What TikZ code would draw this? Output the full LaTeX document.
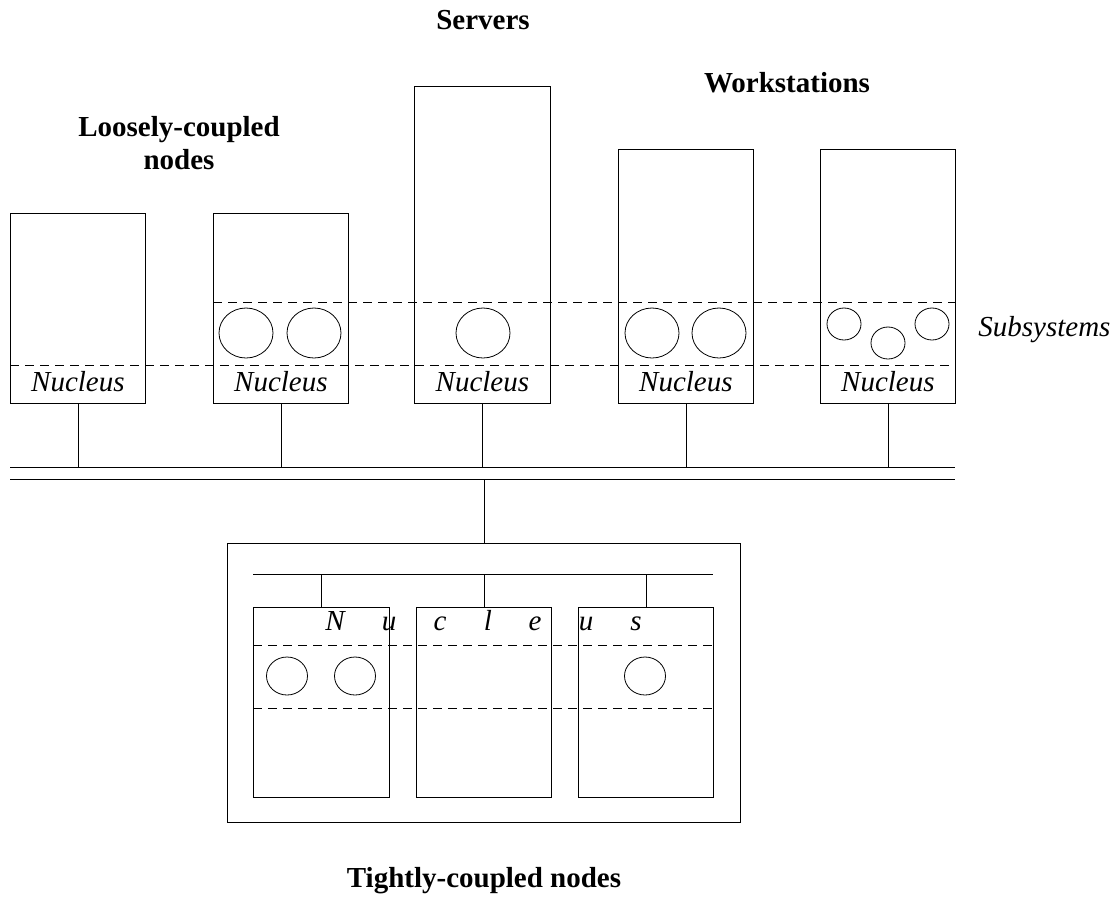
\documentclass[tikz,border=0pt]{standalone}
\usepackage{fontspec}
\setmainfont{Liberation Serif}
\usetikzlibrary{shapes.geometric}
\begin{document}
\begin{tikzpicture}[x=1pt,y=-1pt, line width=0.8pt,
  box/.style={draw, rectangle, inner sep=0pt, anchor=north west},
  dashline/.style={dash pattern=on 9pt off 6pt},
  sub/.style={draw, ellipse, inner sep=0pt, minimum width=54pt, minimum height=50pt},
  subsmall/.style={draw, ellipse, inner sep=0pt, minimum width=34pt, minimum height=32pt},
  subinner/.style={draw, ellipse, inner sep=0pt, minimum width=41pt, minimum height=38pt},
  lab/.style={font=\fontsize{29}{33}\selectfont\itshape, inner sep=0pt, anchor=base},
  ttl/.style={font=\fontsize{29}{33}\selectfont\bfseries, inner sep=0pt, anchor=base, align=center}]
\useasboundingbox (0,0) rectangle (1115,897);

% titles
\node[ttl] (servers) at (483,29) {Servers};
\node[ttl] (works) at (787,92) {Workstations};
\node[ttl, anchor=north] (loose) at (179,116) {Loosely-coupled\\nodes};
\node[ttl] (tight) at (484,887) {Tightly-coupled nodes};
\node[lab, anchor=base west] (subsys) at (978,336) {Subsystems};

% top boxes
\node[box, minimum width=135pt, minimum height=190pt] (b1) at (10,213) {};
\node[box, minimum width=135pt, minimum height=190pt] (b2) at (213,213) {};
\node[box, minimum width=136pt, minimum height=317pt] (b3) at (414,86) {};
\node[box, minimum width=135pt, minimum height=254pt] (b4) at (618,149) {};
\node[box, minimum width=135pt, minimum height=254pt] (b5) at (820,149) {};

% dashed layers
\coordinate (dUL) at (213,302); \coordinate (dUR) at (955,302);
\coordinate (dLL) at (10,365);  \coordinate (dLR) at (955,365);
\draw[dashline] (dUL) -- (dUR);
\draw[dashline] (dLL) -- (dLR);

% nucleus labels
\foreach \b in {b1,b2,b3,b4,b5}
  \node[lab] (nuc-\b) at (\b.south |- 0,391) {Nucleus};

% subsystems circles
\node[sub] (c1) at (246,333) {};
\node[sub] (c2) at (314,333) {};
\node[sub] (c3) at (483,333) {};
\node[sub] (c4) at (652,333) {};
\node[sub] (c5) at (719,333) {};
\node[subsmall] (c6) at (844,324) {};
\node[subsmall] (c7) at (888,343) {};
\node[subsmall] (c8) at (932,324) {};

% bus
\coordinate (bus1L) at (10,467); \coordinate (bus1R) at (955,467);
\coordinate (bus2L) at (10,479); \coordinate (bus2R) at (955,479);
\draw (bus1L) -- (bus1R);
\draw (bus2L) -- (bus2R);
\foreach \b in {b1,b2,b3,b4,b5}
  \draw (\b.south) -- (\b.south |- bus1L);

% tightly coupled
\node[box, minimum width=513pt, minimum height=279pt] (outer) at (227,543) {};
\draw (outer.north) -- (outer.north |- bus2L);
\coordinate (ibL) at (253,574); \coordinate (ibR) at (713,574);
\draw (ibL) -- (ibR);
\node[box, minimum width=136pt, minimum height=190pt] (t1) at (253,607) {};
\node[box, minimum width=135pt, minimum height=190pt] (t2) at (416,607) {};
\node[box, minimum width=135pt, minimum height=190pt] (t3) at (578,607) {};
\foreach \b in {t1,t2,t3}
  \draw (\b.north) -- (\b.north |- ibL);
\coordinate (idUL) at (253,645); \coordinate (idUR) at (713,645);
\coordinate (idLL) at (253,708); \coordinate (idLR) at (713,708);
\draw[dashline] (idUL) -- (idUR);
\draw[dashline] (idLL) -- (idLR);
\node[subinner] (i1) at (287,676) {};
\node[subinner] (i2) at (355,676) {};
\node[subinner] (i3) at (645,676) {};

% spread-out Nucleus
\node[lab] (l1) at (335,630) {N};
\node[lab] (l2) at (389,630) {u};
\node[lab] (l3) at (440,630) {c};
\node[lab] (l4) at (488,630) {l};
\node[lab] (l5) at (535,630) {e};
\node[lab] (l6) at (586,630) {u};
\node[lab] (l7) at (636,630) {s};
\end{tikzpicture}
\end{document}
